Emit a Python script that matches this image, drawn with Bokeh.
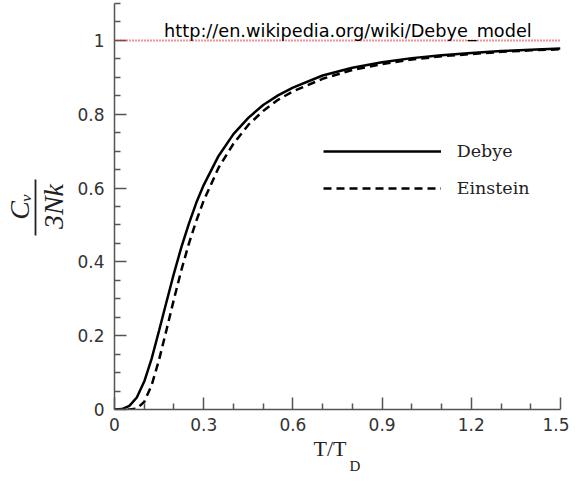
from bokeh.plotting import figure
from bokeh.models import (Range1d, FixedTicker, CustomJSTickFormatter, Span, Label,
                          Legend, LegendItem, LinearAxis, Title)
from bokeh.embed import file_html
from bokeh.resources import INLINE

# ---- data ----
t_over_td = [0, 0.025, 0.05, 0.075, 0.1, 0.125, 0.15, 0.175, 0.2, 0.225, 0.25, 0.275,
             0.3, 0.35, 0.4, 0.45, 0.5, 0.55, 0.6, 0.7, 0.8, 0.9, 1.0, 1.1, 1.2, 1.3, 1.4, 1.5]
debye = [0, 0.0012, 0.0097, 0.0325, 0.0758, 0.138, 0.214, 0.292, 0.369, 0.440, 0.503, 0.560,
         0.608, 0.687, 0.746, 0.790, 0.825, 0.851, 0.872, 0.905, 0.926, 0.941, 0.952, 0.960,
         0.966, 0.971, 0.975, 0.978]
einstein = [0, 0.0, 0.0, 0.0025, 0.0206, 0.0661, 0.135, 0.216, 0.299, 0.378, 0.449, 0.511,
            0.566, 0.655, 0.720, 0.771, 0.809, 0.839, 0.862, 0.896, 0.920, 0.936, 0.948, 0.957,
            0.963, 0.969, 0.973, 0.976]
series_names = ["Debye", "Einstein"]
ref_level = 1.0
x_major = [0, 0.3, 0.6, 0.9, 1.2, 1.5]
x_minor = [0.1, 0.2, 0.4, 0.5, 0.7, 0.8, 1.0, 1.1, 1.3, 1.4]
y_major = [0, 0.2, 0.4, 0.6, 0.8, 1.0]
y_minor = [0.05, 0.1, 0.15, 0.25, 0.3, 0.35, 0.45, 0.5, 0.55, 0.65, 0.7, 0.75,
           0.85, 0.9, 0.95, 1.05, 1.1]
url_text = "http://en.wikipedia.org/wiki/Debye_model"
x_title = ["T/T", "D"]
y_title = ["C\u1d65", "3Nk"]

p = figure(width=569, height=477, output_backend="svg", toolbar_location=None,
           x_range=Range1d(0, 1.5), y_range=Range1d(0, 1.1),
           min_border_left=113, min_border_right=9, min_border_top=3, min_border_bottom=68)
p.outline_line_color = None
p.xgrid.visible = False
p.ygrid.visible = False

AX = "#555555"
fmt = CustomJSTickFormatter(code="return String(Number(tick.toFixed(2)));")
p.xaxis.ticker = FixedTicker(ticks=x_major, minor_ticks=x_minor)
p.yaxis.ticker = FixedTicker(ticks=y_major, minor_ticks=y_minor)
for ax in (p.xaxis, p.yaxis):
    ax.formatter = fmt
    ax.major_tick_in = 12
    ax.major_tick_out = 0
    ax.minor_tick_in = 6
    ax.minor_tick_out = 0
    ax.axis_line_color = AX
    ax.axis_line_width = 1.5
    ax.major_tick_line_color = AX
    ax.major_tick_line_width = 1.5
    ax.minor_tick_line_color = AX
    ax.minor_tick_line_width = 1.5
    ax.major_label_text_font = "DejaVu Sans"
    ax.major_label_text_font_size = "17px"
    ax.major_label_text_color = "#333333"
p.yaxis.major_label_standoff = 10
p.xaxis.major_label_standoff = 8

# denominator of the y title as the main y-axis label
p.yaxis.axis_label = y_title[1]
p.yaxis.axis_label_text_font = "Liberation Serif"
p.yaxis.axis_label_text_font_style = "italic"
p.yaxis.axis_label_text_font_size = "28px"
p.yaxis.axis_label_text_color = "#222222"
p.yaxis.axis_label_standoff = 5

# fraction bar (a bounded bare axis line) + numerator C_v as its label
bar_axis = LinearAxis(bounds=(0.4715, 0.6244), ticker=FixedTicker(ticks=[], minor_ticks=[]),
                      major_tick_in=0, major_tick_out=0, minor_tick_in=0, minor_tick_out=0,
                      major_label_standoff=0, axis_line_color="#222222", axis_line_width=1.8,
                      axis_label=y_title[0], axis_label_standoff=1,
                      axis_label_text_font="Liberation Serif",
                      axis_label_text_font_style="italic", axis_label_text_font_size="28px",
                      axis_label_text_color="#222222")
p.add_layout(bar_axis, "left")

# x title T/T with subscript D
p.add_layout(Title(text=x_title[0], align="left", offset=199, vertical_align="top",
                   standoff=4, text_font="Liberation Serif", text_font_style="normal",
                   text_font_size="22px", text_color="#222222"), "below")
p.add_layout(Title(text=x_title[1], align="left", offset=235, vertical_align="top",
                   standoff=-14, text_font="Liberation Serif", text_font_style="normal",
                   text_font_size="15px", text_color="#222222"), "below")

r1 = p.line(t_over_td, debye, line_color="black", line_width=2.5)
r2 = p.line(t_over_td, einstein, line_color="black", line_width=2.5, line_dash="8 5")

p.add_layout(Span(location=ref_level, dimension="width", line_color="#ee2222",
                  line_dash="1 2", line_width=2))

legend = Legend(items=[LegendItem(label=series_names[0], renderers=[r1]),
                       LegendItem(label=series_names[1], renderers=[r2])],
                location=(208.7, 210.7), glyph_width=118, glyph_height=20, label_height=20,
                label_standoff=16, spacing=17, padding=0, margin=0,
                border_line_alpha=0, background_fill_alpha=0,
                label_text_font="DejaVu Serif", label_text_font_size="17.5px",
                label_text_color="#222222")
p.add_layout(legend)

p.add_layout(Label(x=0.1668, y=1.026, text=url_text, text_font="DejaVu Sans",
                   text_font_size="17.7px", text_baseline="alphabetic", text_align="left",
                   text_color="black"))

open("out.html", "w").write(file_html(p, INLINE))
